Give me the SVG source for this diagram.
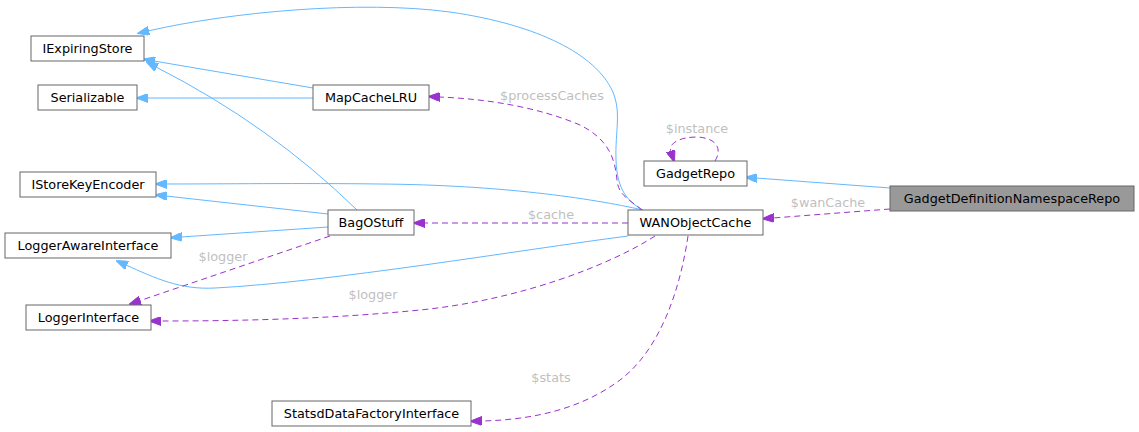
<svg xmlns="http://www.w3.org/2000/svg" width="1139" height="432" viewBox="0 0 1139 432">
<style>
.node rect{fill:#ffffff;stroke:#666666;stroke-width:1}
.node.hl rect{fill:#999999}
.node text{font-family:"DejaVu Sans","Liberation Sans",sans-serif;font-size:12.8px;fill:#000000;text-anchor:middle}
.inh{fill:none;stroke:#63b8ff;stroke-width:1;marker-end:url(#ab)}
.use{fill:none;stroke:#9a32cd;stroke-width:1;stroke-dasharray:6,4;marker-end:url(#ap)}
.lbl{font-family:"DejaVu Sans","Liberation Sans",sans-serif;font-size:12.8px;fill:#bfbfbf;text-anchor:middle}
</style>
<defs>
<marker id="ab" viewBox="0 0 12 9" refX="1" refY="4.5" markerWidth="12" markerHeight="9" markerUnits="userSpaceOnUse" orient="auto">
<path d="M0,0 L12,4.5 L0,9 z" fill="#63b8ff" stroke="#63b8ff" stroke-dasharray="none"/>
</marker>
<marker id="ap" viewBox="0 0 12 9" refX="1" refY="4.5" markerWidth="12" markerHeight="9" markerUnits="userSpaceOnUse" orient="auto">
<path d="M0,0 L12,4.5 L0,9 z" fill="#9a32cd" stroke="#9a32cd" stroke-dasharray="none"/>
</marker>
</defs>
<rect width="1139" height="432" fill="#ffffff"/>
<g id="connectors">
<path class="inh" d="M643,210 C628,202 617,190 616,160 C615,130 622,112 612,90 C595,55 540,25 450,12 C360,0 230,12 148,31"/>
<path class="inh" d="M313,88 L154,61"/>
<path class="inh" d="M313,98 L147,98"/>
<path class="inh" d="M357,210 Q270,125 156,67"/>
<path class="inh" d="M643,210 C590,198 500,185 380,184 C300,183 220,184 166,184"/>
<path class="inh" d="M328,214 L166,196"/>
<path class="inh" d="M328,227 L181,237"/>
<path class="inh" d="M628,236 C520,250 330,282 215,288 C180,290 155,278 126,265"/>
<path class="inh" d="M890,188 L756,178"/>
<path class="use" d="M330,236 L139.5,300.8"/>
<text class="lbl" x="223" y="261">$logger</text>
<path class="use" d="M655,236 C610,265 520,300 420,310 C330,319 240,321 160,321"/>
<text class="lbl" x="373" y="299">$logger</text>
<path class="use" d="M688,236 C680,290 660,350 620,380 C580,410 530,420 481,421"/>
<text class="lbl" x="551" y="382">$stats</text>
<path class="use" d="M642,210 C630,200 618,195 617,180 C615,160 610,140 580,125 C540,108 490,99 439,97"/>
<text class="lbl" x="552" y="100">$processCaches</text>
<path class="use" d="M628,223 L424,223"/>
<text class="lbl" x="551" y="219">$cache</text>
<path class="use" d="M715,161 C722,150 718,138 697,137 C680,137 668,143 671,152"/>
<text class="lbl" x="697" y="133">$instance</text>
<path class="use" d="M890,209 L773,218"/>
<text class="lbl" x="828" y="207">$wanCache</text>
</g>
<g id="IExpiringStore" class="node"><rect x="31" y="36" width="113" height="25"/><text x="87.5" y="53">IExpiringStore</text></g>
<g id="Serializable" class="node"><rect x="38" y="85" width="99" height="25"/><text x="87.5" y="102">Serializable</text></g>
<g id="IStoreKeyEncoder" class="node"><rect x="20" y="172" width="136" height="25"/><text x="88" y="189">IStoreKeyEncoder</text></g>
<g id="LoggerAwareInterface" class="node"><rect x="5" y="233" width="166" height="25"/><text x="88" y="250">LoggerAwareInterface</text></g>
<g id="LoggerInterface" class="node"><rect x="26" y="305" width="125" height="25"/><text x="88.5" y="322">LoggerInterface</text></g>
<g id="MapCacheLRU" class="node"><rect x="313" y="85" width="116" height="25"/><text x="371" y="102">MapCacheLRU</text></g>
<g id="BagOStuff" class="node"><rect x="328" y="210" width="86" height="25"/><text x="371" y="227">BagOStuff</text></g>
<g id="StatsdDataFactoryInterface" class="node"><rect x="272" y="401" width="199" height="25"/><text x="371.5" y="418">StatsdDataFactoryInterface</text></g>
<g id="GadgetRepo" class="node"><rect x="644" y="161" width="103" height="25"/><text x="695.5" y="178">GadgetRepo</text></g>
<g id="WANObjectCache" class="node"><rect x="628" y="210" width="135" height="25"/><text x="695.5" y="227">WANObjectCache</text></g>
<g id="GadgetDefinitionNamespaceRepo" class="node hl"><rect x="890" y="186" width="244" height="25"/><text x="1012" y="203">GadgetDefinitionNamespaceRepo</text></g>
</svg>
